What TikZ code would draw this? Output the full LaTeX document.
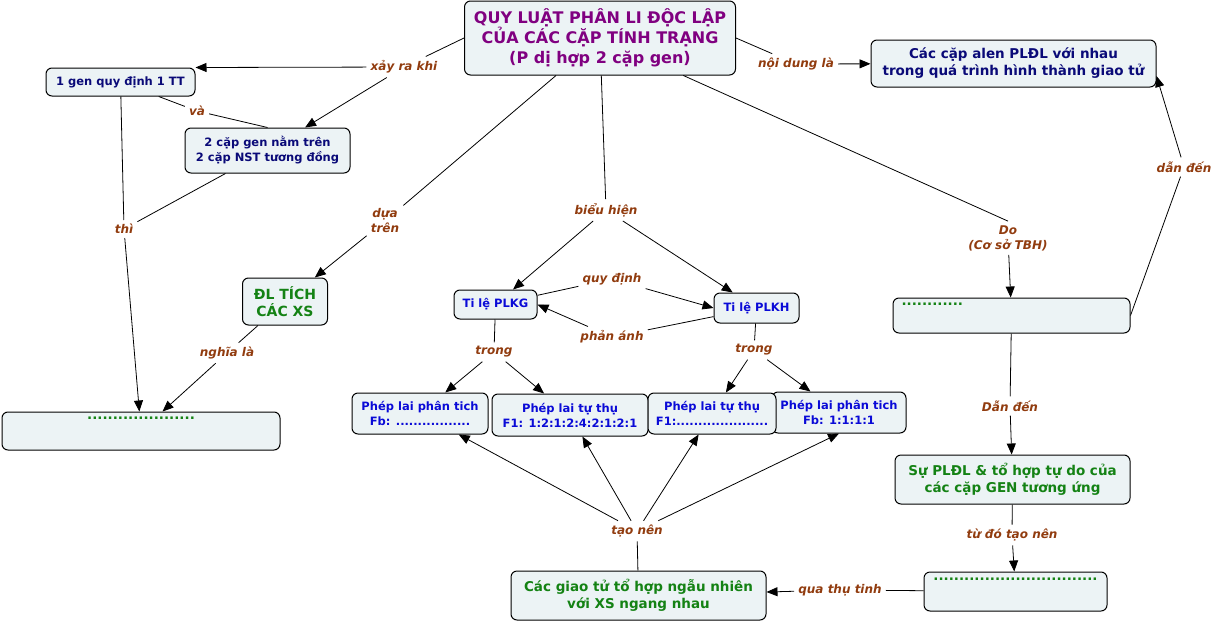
\documentclass[tikz,border=0pt]{standalone}
\usepackage{fontspec}
\setmainfont{DejaVu Sans}
\usetikzlibrary{arrows.meta}
\definecolor{boxfill}{RGB}{236,243,245}
\definecolor{titlepurple}{RGB}{128,0,128}
\definecolor{navytext}{RGB}{10,10,120}
\definecolor{bluetext}{RGB}{10,10,215}
\definecolor{greentext}{RGB}{20,130,20}
\definecolor{linkbrown}{RGB}{145,60,15}
\tikzset{
  concept box/.style={draw=black, line width=1pt, fill=boxfill, rounded corners=6pt, align=center, inner sep=2pt, font=\bfseries\fontsize{11.5}{15}\selectfont},
  navy box/.style={concept box, text=navytext},
  blue box/.style={concept box, text=bluetext},
  green box/.style={concept box, text=greentext, font=\bfseries\fontsize{13.5}{17}\selectfont},
  boxsize/.style 2 args={minimum width=#1pt, minimum height=#2pt},
  link label/.style={text=linkbrown, font=\bfseries\itshape\fontsize{12}{15}\selectfont, inner sep=4pt, align=center},
  link line/.style={line width=0.8pt},
  link arrow/.style={line width=0.8pt, -{Triangle[length=11pt,width=9pt]}},
}

\begin{document}
\begin{tikzpicture}[x=1pt, y=-1pt]
  \useasboundingbox (0,0) rectangle (1218,621);
  % concepts
  \node[concept box, text=titlepurple, font=\bfseries\fontsize{16}{20}\selectfont, boxsize={271}{74}] (main) at (600,38) {QUY LUẬT PHÂN LI ĐỘC LẬP\\CỦA CÁC CẶP TÍNH TRẠNG\\(P dị hợp 2 cặp gen)};
  \node[navy box, font=\bfseries\fontsize{13.5}{17}\selectfont, boxsize={285}{47}] (alen) at (1013.5,63.5) {Các cặp alen PLĐL với nhau\\trong quá trình hình thành giao tử};
  \node[navy box, boxsize={149}{28}] (gen1) at (120.5,82) {1 gen quy định 1 TT};
  \node[navy box, boxsize={165}{45}] (gen2) at (267.5,150.5) {2 cặp gen nằm trên\\2 cặp NST tương đồng};
  \node[green box, font=\bfseries\fontsize{14}{17}\selectfont, boxsize={85}{47}] (dl) at (285,301.5) {ĐL TÍCH\\CÁC XS};
  \node[green box, boxsize={278}{38}] (bl) at (141,431) {.....................\\[9pt]\phantom{.}};
  \node[blue box, boxsize={83}{29}] (plkg) at (495.5,304.5) {Ti lệ PLKG};
  \node[blue box, boxsize={85}{30}] (plkh) at (756.5,308) {Ti lệ PLKH};
  \node[blue box, boxsize={136}{41}] (pl1) at (420,413.5) {Phép lai phân tich\\Fb: .................};
  \node[blue box, boxsize={156}{42}] (pl2) at (570,415) {Phép lai tự thụ\\F1: 1:2:1:2:4:2:1:2:1};
  \node[blue box, boxsize={134}{41}] (pl4) at (839,412.5) {Phép lai phân tich\\Fb: 1:1:1:1};
  \node[blue box, boxsize={128}{41}] (pl3) at (712,413.5) {Phép lai tự thụ\\F1:.....................};
  \node[green box, align=left, text width=220pt, boxsize={237}{35}] (dr) at (1011.5,315.5) {............\\[6pt]\phantom{.}};
  \node[green box, boxsize={235}{49}] (spl) at (1012.5,479.5) {Sự PLĐL \& tổ hợp tự do của\\các cặp GEN tương ứng};
  \node[green box, boxsize={183}{39}] (br) at (1015.5,591.5) {................................\\[8pt]\phantom{.}};
  \node[green box, boxsize={255}{49}] (gt) at (638.5,595.5) {Các giao tử tổ hợp ngẫu nhiên\\với XS ngang nhau};
  % link labels
  \node[link label] (lxay) at (404,67) {xảy ra khi};
  \node[link label] (lva) at (197,111) {và};
  \node[link label] (lthi) at (124,229) {thì};
  \node[link label] (ldua) at (385,221) {dựa\\trên};
  \node[link label] (lnghia) at (227,353) {nghĩa là};
  \node[link label] (lbieu) at (606,210) {biểu hiện};
  \node[link label] (lquy) at (612,279) {quy định};
  \node[link label] (lphan) at (612,337) {phản ánh};
  \node[link label] (ltrongl) at (494,352) {trong};
  \node[link label] (ltrongr) at (754,350) {trong};
  \node[link label] (ltao) at (637,531) {tạo nên};
  \node[link label] (lnoi) at (796,64) {nội dung là};
  \node[link label] (ldo) at (1008,238) {Do\\(Cơ sở TBH)};
  \node[link label] (ldanr) at (1184,167) {dẫn đến};
  \node[link label] (ldand) at (1010,406) {Dẫn đến};
  \node[link label] (ltudo) at (1012,535) {từ đó tạo nên};
  \node[link label] (lqua) at (840,590) {qua thụ tinh};
  % connectors
  \draw[link line] (main.west) -- (lxay);
  \draw[link arrow] (lxay) -- (gen1.north east);
  \draw[link arrow] (lxay) -- (gen2);
  \draw[link line] (gen1) -- (lva);
  \draw[link line] (lva) -- (gen2.north);
  \draw[link line] (gen1) -- (lthi);
  \draw[link line] (gen2) -- (lthi);
  \draw[link arrow] (lthi) -- (bl);
  \draw[link line] (main) -- (ldua);
  \draw[link arrow] (ldua) -- (dl);
  \draw[link line] (dl) -- (lnghia);
  \draw[link arrow] (lnghia) -- (bl);
  \draw[link line] (main) -- (lbieu);
  \draw[link arrow] (lbieu) -- (plkg);
  \draw[link arrow] (lbieu) -- (plkh);
  \draw[link line] (plkg) -- (lquy);
  \draw[link arrow] (lquy) -- (plkh.west);
  \draw[link line] (plkh) -- (lphan);
  \draw[link arrow] (lphan) -- (plkg.east);
  \draw[link line] (plkg) -- (ltrongl);
  \draw[link arrow] (ltrongl) -- (pl1);
  \draw[link arrow] (ltrongl) -- (pl2);
  \draw[link line] (plkh) -- (ltrongr);
  \draw[link arrow] (ltrongr) -- (pl3);
  \draw[link arrow] (ltrongr) -- (pl4);
  \draw[link line] (gt) -- (ltao);
  \foreach \target in {pl1,pl2,pl3,pl4.south}
    \draw[link arrow] (ltao) -- (\target);
  \draw[link line] (main.east) -- (lnoi);
  \draw[link arrow] (lnoi) -- (alen);
  \draw[link line] (main) -- (ldo.north);
  \draw[link arrow] (ldo) -- (dr);
  \draw[link line] (dr.east) -- (ldanr);
  \draw[link arrow] (ldanr) -- (alen.-5);
  \draw[link line] (dr) -- (ldand);
  \draw[link arrow] (ldand) -- (spl);
  \draw[link line] (spl) -- (ltudo);
  \draw[link arrow] (ltudo) -- (br);
  \draw[link line] (br) -- (lqua);
  \draw[link arrow] (lqua) -- (gt);
\end{tikzpicture}
\end{document}
